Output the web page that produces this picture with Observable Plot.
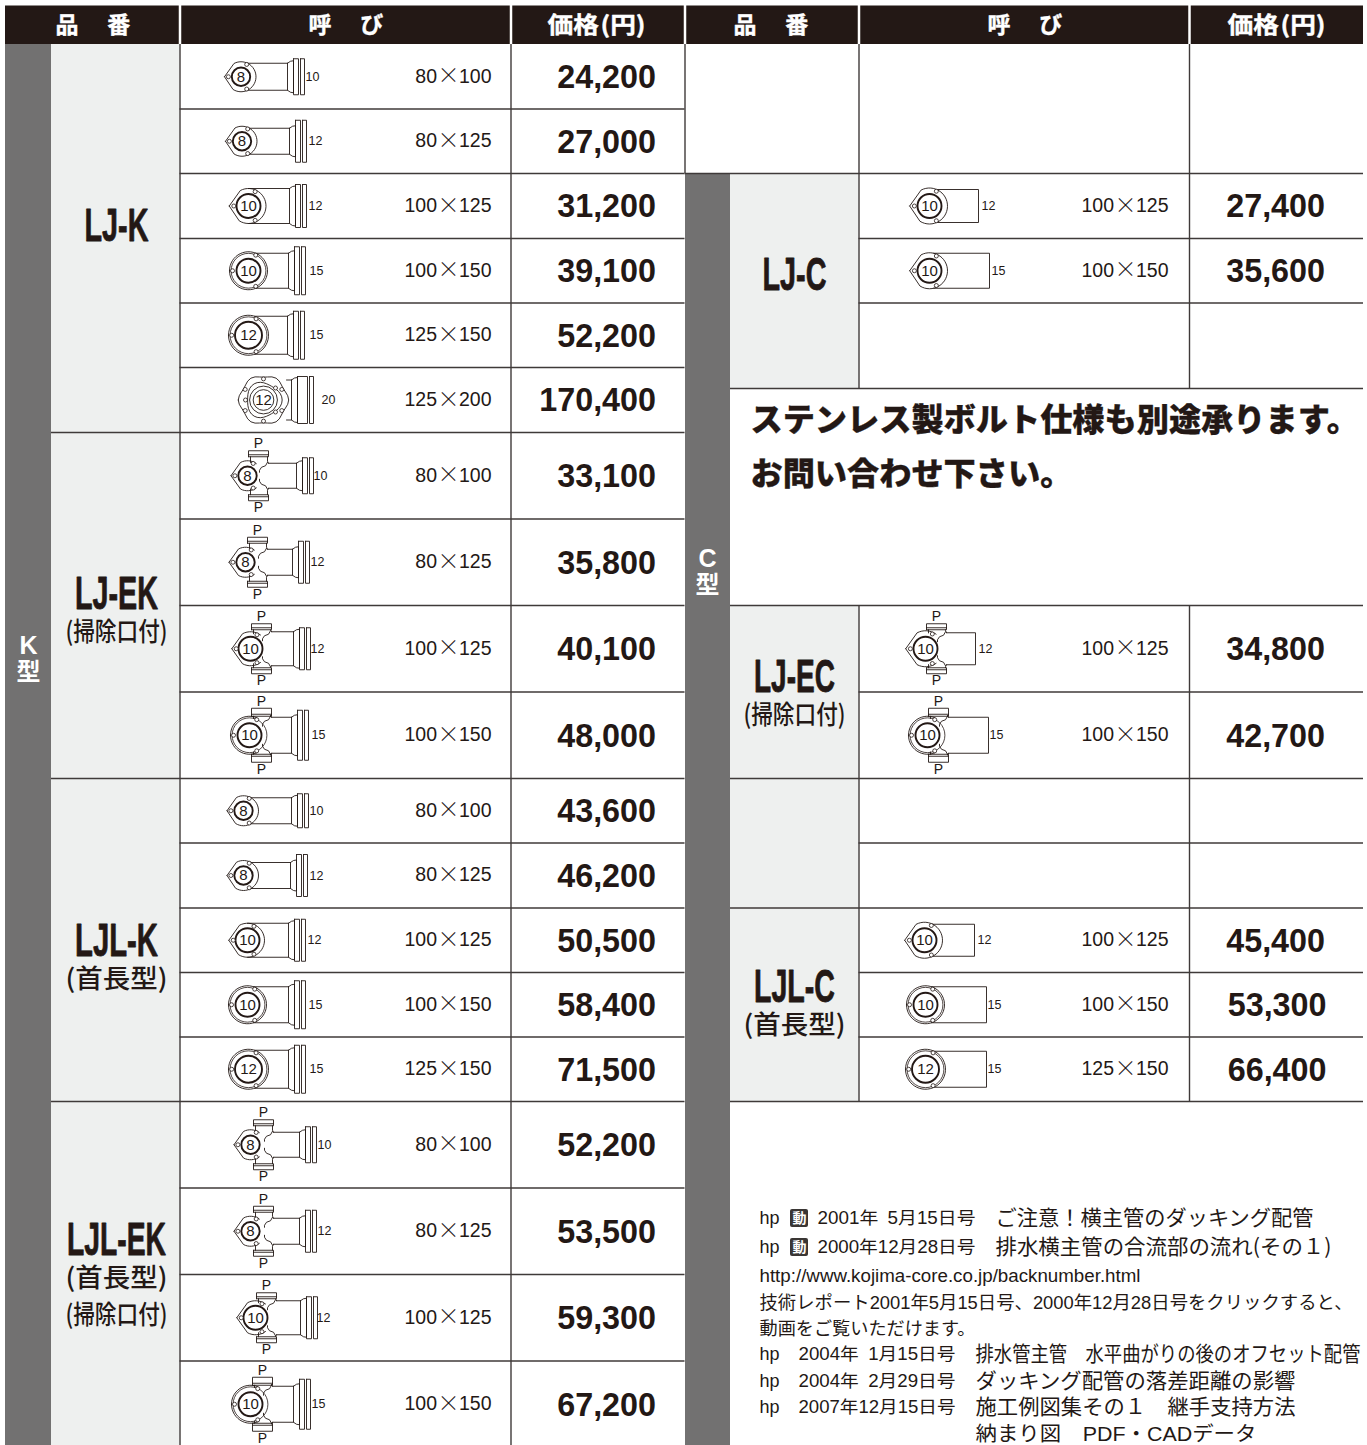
<!DOCTYPE html>
<html><head><meta charset="utf-8">
<style>html,body{margin:0;padding:0;background:#fff}svg{display:block}</style>
<script src="https://cdn.jsdelivr.net/npm/d3@7"></script>
<script src="https://cdn.jsdelivr.net/npm/@observablehq/plot@0.6"></script>
</head><body><div id="chart"></div>
<script>
// ---------- table content ----------
const headers = ["品\u3000\u2005番", "呼\u3000\u2005び", "価格\u200a(円)"];
const leftSizes = [[80,100],[80,125],[100,125],[100,150],[125,150],[125,200],
  [80,100],[80,125],[100,125],[100,150],
  [80,100],[80,125],[100,125],[100,150],[125,150],
  [80,100],[80,125],[100,125],[100,150]];
const leftPrices = [24200,27000,31200,39100,52200,170400,33100,35800,40100,48000,
  43600,46200,50500,58400,71500,52200,53500,59300,67200];
const rightSizes = [[100,125],[100,150],[100,125],[100,150],[100,125],[100,150],[125,150]];
const rightPrices = [27400,35600,34800,42700,45400,53300,66400];
const leftNominals = [8,8,10,10,12,12,8,8,10,10,8,8,10,10,12,8,8,10,10];
const leftTails = [10,12,12,15,15,20,10,12,12,15,10,12,12,15,15,10,12,12,15];
const rightNominals = [10,10,10,10,10,10,12];
const rightTails = [12,15,12,15,12,15,15];
const modelNames = ["LJ-K","LJ-EK","LJL-K","LJL-EK","LJ-C","LJ-EC","LJL-C"];
const modelNotes = ["","(掃除口付)","(首長型)","(首長型)","","(掃除口付)","(首長型)"];
const notice = ["ステンレス製ボルト仕様も別途承ります。","お問い合わせ下さい。"];
const notes = [
 ["hp","2001年\u2002 5月15日号".replace(" ",""),"ご注意\uFF01横主管のダッキング配管"],
 ["hp","2000年12月28日号","排水横主管の合流部の流れ(その\uFF11)"],
 ["hp","2004年\u20021月15日号","排水管主管\u3000水平曲がりの後のオフセット配管"],
 ["hp","2004年\u20022月29日号","ダッキング配管の落差距離の影響"],
 ["hp","2007年12月15日号","施工例図集その\uFF11\u3000継手支持方法"]];
const noteLink = "http://www.kojima-core.co.jp/backnumber.html";
const noteBody = ["技術レポート2001年5月15日号、2000年12月28日号をクリックすると、","動画をご覧いただけます。"];
const noteLast = "納まり図\u3000PDF・CADデータ";

// ---------- layout ----------
const W = 1367, H = 1445;
const INK = "#231815", GREY = "#727171", PALE = "#eef0ef", RULE = "#3f3a39";
const SANS = "Liberation Sans, Arial, sans-serif", JP = "Noto Sans CJK JP, sans-serif", NARROW = "Liberation Sans Narrow, Liberation Sans, sans-serif";
const MIX = "Liberation Sans, Noto Sans CJK JP, sans-serif";
const leftEdges = [44,108.5,173,238,302.5,367,432,518.5,605,691.5,778,842.5,907.5,972,1036.5,1101,1187.5,1274,1360.5,1447];
const rightRows = [[173,238],[238,302.5],[605,691.5],[691.5,778],[907.5,972],[972,1036.5],[1036.5,1101]];
const leftCy = leftEdges.slice(1).map((e,i)=>(e+leftEdges[i])/2);
const rightCy = rightRows.map(r=>(r[0]+r[1])/2);
const ringRadius = {8:9.2,10:12,12:13.5};

// fitting drawing parameters: head x, head radius, flange/end x, pipe half-height, flange half-height, label x, cleanout x
const leftFit = [
 [240.5,15,287,13.5,18,305],[241.5,15,289,13,21,308],[248,17.5,289,17.5,21.5,308],[248,19,288,17.5,24,309],[248,20,287,19,24,309],[263,24,291,20,23.5,321],
 [247,15,296,12.5,18,313,258],[245,15,292,13,21,310,257],[250,17,293,17,21,310,261],[249,19,291,18,25,311,261],
 [243,15,291,13,17,309],[243,15,290,13,21,309],[247,17,288,17,21,307],[247,19,288,18,24,308],[248,20,288,19,24,309],
 [250,15,299,12.5,18,317,263],[250,15,299,13,21,317,263],[255,17,300,17,21,316,266],[250,19,293,18,25,311,262]];
const rightFit = [
 [929,18,978,16.5,0,981,,"tip"],[929,18,989,17.5,0,991,,"tip"],[925,18,975,16,0,978,936],[927,19,988,18,0,989,938],
 [924,18,974,16,0,977],[925,19,986,18,0,987],[925,20,986,18,0,987]];

const paths = [], rings = [], holes = [], labels = [], tails = [], pees = [];
let pid = 0;
const poly = (pts)=>{const id=pid++; pts.forEach(p=>paths.push({id,x:p[0],y:p[1]}));};
const box = (x1,x2,y1,y2)=>poly([[x1,y1],[x2,y1],[x2,y2],[x1,y2],[x1,y1]]);
const polar = (cx,cy,R,a)=>[cx+R*Math.cos(a*Math.PI/180),cy+R*Math.sin(a*Math.PI/180)];
function head(cx,cy,R,round,px){
  if(round){
    if(px){
      poly(d3.range(-180,-62,8).map(a=>polar(cx,cy,R,a)));
      poly(d3.range(180,62,-8).map(a=>polar(cx,cy,R,a)));
    } else poly(d3.range(-180,188,8).map(a=>polar(cx,cy,R,a)));
  } else if(px){
    poly([[cx-R*1.1,cy],...d3.range(-118,-46,8).map(a=>polar(cx,cy,R,a))]);
    poly([[cx-R*1.1,cy],...d3.range(118,46,-8).map(a=>polar(cx,cy,R,a))]);
  } else {
    poly([[cx-R*1.1,cy],...d3.range(-118,126,8).map(a=>polar(cx,cy,R,a)),[cx-R*1.1,cy]]);
  }
}
function fitting(f,cy,nom,tail,flanged){
  const [cx,R,fx,h,fh,lx,px,forced]=f;
  const round = forced!=="tip" && (tail===15 && nom>=10 || nom===12 && tail!==20);
  const big = tail===20;
  if(big){
    const outer=d3.range(-180,190,10).map(a=>{const b=a*Math.PI/180,k=1+.05*Math.cos(6*b);return [cx+R*k*Math.cos(b),cy+R*k*Math.sin(b)];});
    poly(outer);
    const inner=d3.range(-180,190,10).map(a=>{const b=a*Math.PI/180,k=.72*(1+.08*Math.cos(3*b));return [cx+R*k*Math.cos(b),cy+R*k*Math.sin(b)];});
    poly(inner);
    d3.range(0,360,60).forEach(a=>{const p=polar(cx,cy,R*.88,a+30);holes.push({x:p[0],y:p[1]});});
    holes.push({x:cx-R*.75,y:cy}); holes.push({x:cx+R*.5,y:cy-R*.5}); holes.push({x:cx+R*.5,y:cy+R*.5});
    rings.push({x:cx,y:cy,r:R*.58,sw:.9}); rings.push({x:cx,y:cy,r:R*.43,sw:.9});
  } else {
    head(cx,cy,R,round,px);
    if(round) rings.push({x:cx,y:cy,r:R-1.6,sw:.8});
    rings.push({x:cx,y:cy,r:ringRadius[nom],sw:1.9});
    holes.push({x:cx-R*.84,y:cy});
    holes.push({x:cx+R*.38,y:cy-R*.82});
    holes.push({x:cx+R*.38,y:cy+R*.82});
  }
  labels.push({x:cx,y:cy,text:String(nom)});
  const start = px? px+10 : cx+Math.sqrt(Math.max(R*R-h*h,0));
  const sx = big? cx+R-1 : start;
  if(flanged){
    poly([[sx,cy-h],[fx,cy-h]]); poly([[sx,cy+h],[fx,cy+h]]);
    poly([[fx,cy-h],[fx+3,cy-h-2],[fx+6,cy-h-2.5],[fx+6,cy+h+2.5],[fx+3,cy+h+2],[fx,cy+h],[fx,cy-h]]);
    const w=big?5:0;
    box(fx+6,fx+11+w,cy-fh,cy+fh);
    box(fx+13+w,fx+17+w,cy-fh,cy+fh);
  } else {
    poly([[sx,cy-h],[fx,cy-h],[fx,cy+h],[sx,cy+h]]);
  }
  tails.push({x:lx,y:cy,text:String(tail)});
  if(px){
    const b0=19, b1=R>=19?27:25, py=R>=19?34:32;
    [-1,1].forEach(s=>{
      box(px-10,px+10,cy+s*b0,cy+s*b1);
      poly([[px-10,cy+s*(b0+2)],[px+10,cy+s*(b0+2)]]);
      poly([[px-8,cy+s*b0],[px-8,cy+s*(R*.88)]]);
      poly([[px+9,cy+s*b0],[px+9,cy+s*(h+2)],[px+10,cy+s*h]]);
      poly([[px+9,cy+s*(h+1)],[px+7,cy+s*(h-2.5)],[px+3,cy+s*(h-4)],[px+1,cy+s*(h-7)],[px+1,cy+s*(h-9)]]);
      pees.push({x:px,y:cy+s*py});
    });
  }
}
leftFit.forEach((f,i)=>fitting(f,leftCy[i],leftNominals[i],leftTails[i],true));
rightFit.forEach((f,i)=>fitting(f,rightCy[i],rightNominals[i],rightTails[i],false));

const sizeRows = [
 ...leftSizes.map((s,i)=>({a:s[0],b:s[1],y:leftCy[i]-.5,xb:491})),
 ...rightSizes.map((s,i)=>({a:s[0],b:s[1],y:rightCy[i]-.5,xb:1168}))];
const priceRows = [
 ...leftPrices.map((p,i)=>({p,y:leftCy[i]+1,x:655.5})),
 ...rightPrices.map((p,i)=>({p,y:rightCy[i]+1,x:i>=5?1326:1324.5}))];

const fills = [
 {x1:5,x2:1363,y1:5.5,y2:44,f:INK},
 {x1:5,x2:51,y1:44,y2:H,f:GREY},{x1:51,x2:179.5,y1:44,y2:H,f:PALE},
 {x1:685,x2:730,y1:173,y2:H,f:GREY},
 {x1:730,x2:858.5,y1:173,y2:388,f:PALE},{x1:730,x2:858.5,y1:605,y2:1101,f:PALE}];
const hLines = [
 ...leftEdges.slice(1,-1).map(y=>({y,x1:[432,778,1101].includes(y)?51:179.5,x2:684.5})),
 {y:173,x1:684.5,x2:1363},{y:238,x1:858.5,x2:1363},{y:302.5,x1:858.5,x2:1363},{y:388,x1:730,x2:1363},
 {y:605,x1:730,x2:1363},{y:691.5,x1:858.5,x2:1363},{y:778,x1:730,x2:1363},{y:842.5,x1:858.5,x2:1363},
 {y:907.5,x1:730,x2:1363},{y:972,x1:858.5,x2:1363},{y:1036.5,x1:858.5,x2:1363},{y:1101,x1:730,x2:1363}];
const vLines = [
 {x:179.5,y1:44,y2:H},{x:510.5,y1:44,y2:H},{x:684.5,y1:44,y2:173},
 {x:858.5,y1:44,y2:388},{x:1189,y1:44,y2:388},{x:858.5,y1:605,y2:1101},{x:1189,y1:605,y2:1101}];
const headerGaps = [179.5,510.5,684.5,858.5,1189];
const headerText = [[55,0],[308,1],[547,2],[733,0],[987,1],[1227,2]].map(d=>({x:d[0],text:headers[d[1]]}));
const modelPos = [[116,226],[116,594,632],[116,941,979],[116,1240,1278],[794,275],[794,677,715],[794,987,1025]];
const modelRows = modelNames.map((t,i)=>({t,x:modelPos[i][0],y:modelPos[i][1]}));
const noteRows = modelNotes.map((t,i)=>({t,x:modelPos[i][0],y:modelPos[i][2]})).filter(d=>d.t);
noteRows.push({t:"(掃除口付)",x:116,y:1315});
const noteY = [1218,1247,1354,1381,1407], noteX = [[759,817,995],[759,817,995],[759,798,975],[759,798,975],[759,798,975]];
const noteA=[],noteB=[],noteC=[];
notes.forEach((n,i)=>{noteA.push({x:noteX[i][0],y:noteY[i],t:n[0]});noteB.push({x:noteX[i][1],y:noteY[i],t:n[1]});noteC.push({x:noteX[i][2],y:noteY[i],t:n[2]});});
const fitWidth = new Map([["LJ-K",64],["LJ-EK",83],["LJL-K",83],["LJL-EK",99],["LJ-C",64],["LJ-EC",81],["LJL-C",81],
 ["(掃除口付)",102],["(首長型)",102],
 [notes[0][1],158],[notes[1][1],158],[notes[2][1],157],[notes[3][1],157],[notes[4][1],157],
 [notes[0][2],318],[notes[1][2],336],[notes[2][2],385],[notes[3][2],320],[notes[4][2],320],
 [noteBody[0],593],[noteBody[1],216],[noteLast,281],[noteLink,381],[headers[2],98]]);

const base = {fill:INK};
const svg = Plot.plot({
  width:W,height:H,margin:0,
  x:{domain:[0,W],range:[0,W],axis:null},
  y:{domain:[0,H],range:[0,H],axis:null},
  r:{type:"identity"},
  style:{background:"#fff"},
  marks:[
    Plot.rect(fills,{x1:"x1",x2:"x2",y1:"y1",y2:"y2",fill:"f"}),
    Plot.ruleX(headerGaps,{x:d=>d,y1:5,y2:44,stroke:"#fff",strokeWidth:2.5}),
    Plot.ruleY(hLines,{y:"y",x1:"x1",x2:"x2",stroke:RULE,strokeWidth:1.4}),
    Plot.ruleX(vLines,{x:"x",y1:"y1",y2:"y2",stroke:RULE,strokeWidth:1.4}),
    Plot.text(headerText,{x:"x",y:25,text:"text",fill:"#fff",stroke:"#fff",strokeWidth:.4,fontFamily:JP,fontWeight:700,fontSize:23,textAnchor:"start"}),
    Plot.text(["K","C"],{x:d=>d==="K"?28:707,y:d=>d==="K"?645:558,text:d=>d,fill:"#fff",fontFamily:SANS,fontWeight:700,fontSize:25}),
    Plot.text(["K","C"],{x:d=>d==="K"?28:707,y:d=>d==="K"?672:585,text:()=>"型",fill:"#fff",fontFamily:JP,fontWeight:700,fontSize:24}),
    Plot.text(modelRows,{x:"x",y:"y",text:"t",fontFamily:NARROW,fontWeight:700,fontSize:46,stroke:INK,strokeWidth:.8,...base}),
    Plot.text(noteRows,{x:"x",y:"y",text:"t",fontFamily:JP,fontWeight:500,fontSize:26,...base}),
    Plot.line(paths,{x:"x",y:"y",z:"id",stroke:INK,strokeWidth:.9,curve:"linear"}),
    Plot.dot(rings,{x:"x",y:"y",r:"r",stroke:INK,strokeWidth:"sw",fill:"none"}),
    Plot.dot(holes,{x:"x",y:"y",r:2,stroke:INK,strokeWidth:.8,fill:"#fff"}),
    Plot.text(labels,{x:"x",y:"y",text:"text",fontFamily:SANS,fontSize:15,...base}),
    Plot.text(tails,{x:"x",y:"y",text:"text",fontFamily:SANS,fontSize:12.5,textAnchor:"start",...base}),
    Plot.text(pees,{x:"x",y:"y",text:()=>"P",fontFamily:SANS,fontSize:14,...base}),
    Plot.text(sizeRows,{x:d=>d.xb-54.5,y:"y",text:"a",fontFamily:SANS,fontSize:19.5,textAnchor:"end",...base}),
    Plot.text(sizeRows,{x:d=>d.xb-43,y:"y",text:()=>"×",fontFamily:JP,fontWeight:300,fontSize:22,...base}),
    Plot.text(sizeRows,{x:"xb",y:"y",text:"b",fontFamily:SANS,fontSize:19.5,textAnchor:"end",...base}),
    Plot.text(priceRows,{x:"x",y:"y",text:d=>d3.format(",")(d.p),fontFamily:SANS,fontWeight:700,fontSize:32.3,textAnchor:"end",...base}),
    Plot.text(notice,{x:750,y:(d,i)=>i?474:420,text:d=>d,fontFamily:JP,fontWeight:800,fontSize:32.2,stroke:INK,strokeWidth:.3,textAnchor:"start",...base}),
    Plot.rect([0,1],{x1:790,x2:808,y1:(d,i)=>(i?1238:1209),y2:(d,i)=>(i?1256:1227),fill:"#3a3634",rx:2}),
    Plot.text([0,1],{x:799,y:(d,i)=>(i?1247:1218),text:()=>"動",fontFamily:JP,fontWeight:700,fontSize:14,fill:"#fff"}),
    Plot.text(noteA,{x:"x",y:"y",text:"t",fontFamily:SANS,fontSize:18,textAnchor:"start",...base}),
    Plot.text(noteB,{x:"x",y:"y",text:"t",fontFamily:MIX,fontSize:17.5,textAnchor:"start",...base}),
    Plot.text(noteC,{x:"x",y:"y",text:"t",fontFamily:JP,fontSize:21,textAnchor:"start",...base}),
    Plot.text([noteLink],{x:759,y:1276,text:d=>d,fontFamily:SANS,fontSize:17.5,textAnchor:"start",...base}),
    Plot.text(noteBody,{x:759,y:(d,i)=>i?1329:1303,text:d=>d,fontFamily:MIX,fontSize:18,textAnchor:"start",...base}),
    Plot.text([noteLast],{x:975,y:1433.5,text:d=>d,fontFamily:MIX,fontSize:20.5,textAnchor:"start",...base})
  ]
});
document.getElementById("chart").append(svg);
svg.querySelectorAll("text").forEach(t=>{
  const w = fitWidth.get(t.textContent);
  if(w){t.setAttribute("textLength",w);t.setAttribute("lengthAdjust","spacingAndGlyphs");}
});
</script></body></html>
